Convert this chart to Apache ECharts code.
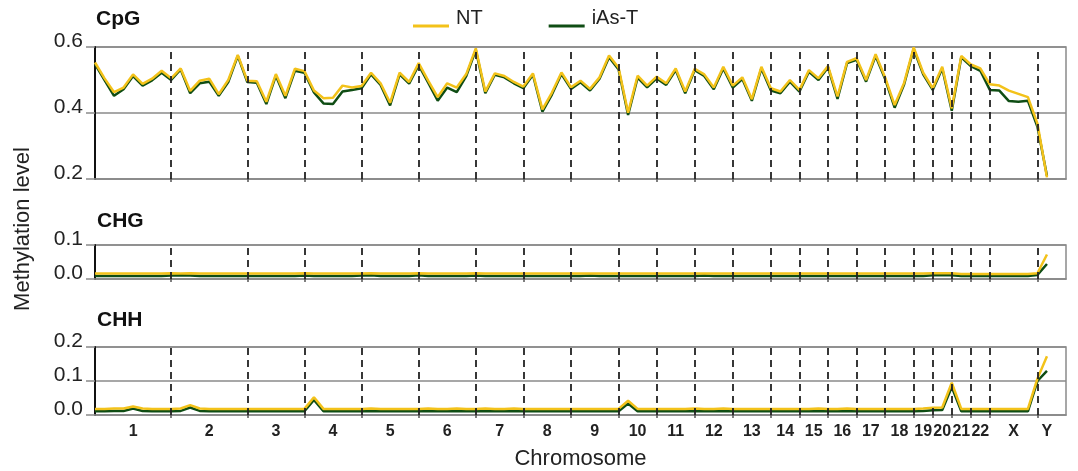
<!DOCTYPE html>
<html>
<head>
<meta charset="utf-8">
<script src="https://cdn.jsdelivr.net/npm/echarts@6/dist/echarts.min.js"></script>
<style>
  html, body { margin: 0; background: #fff; }
  #chart { width: 1078px; height: 471px; }
</style>
</head>
<body>
<div id="chart"></div>
<script>
// chromosomes and how many bins each one has on the x axis
const chrNames = ['1','2','3','4','5','6','7','8','9','10','11','12','13','14','15','16','17','18','19','20','21','22','X','Y'];
const chrBins  = [8,8,6,6,6,6,5,5,5,4,4,4,4,3,3,3,3,3,2,2,2,2,5,2];

const cpgNT = [
  0.553,0.505,0.463,0.477,0.517,0.488,0.504,0.528,0.505,0.535,
  0.467,0.498,0.504,0.457,0.500,0.576,0.498,0.496,0.434,0.518,
  0.452,0.534,0.527,0.468,0.445,0.446,0.483,0.477,0.482,0.522,
  0.490,0.431,0.522,0.494,0.551,0.498,0.448,0.490,0.477,0.518,
  0.596,0.465,0.520,0.512,0.494,0.480,0.520,0.411,0.462,0.523,
  0.478,0.498,0.473,0.508,0.574,0.537,0.401,0.513,0.483,0.510,
  0.490,0.535,0.465,0.534,0.517,0.477,0.540,0.483,0.508,0.442,
  0.540,0.475,0.465,0.500,0.470,0.530,0.505,0.542,0.450,0.555,
  0.566,0.500,0.578,0.508,0.424,0.492,0.599,0.522,0.475,0.540,
  0.414,0.573,0.547,0.535,0.487,0.483,0.468,0.458,0.448,0.368,
  0.205
];
const cpgIAs = [
  0.548,0.500,0.452,0.472,0.512,0.483,0.499,0.522,0.500,0.532,
  0.460,0.490,0.495,0.452,0.494,0.573,0.494,0.492,0.427,0.513,
  0.445,0.528,0.522,0.462,0.429,0.427,0.465,0.470,0.475,0.517,
  0.485,0.423,0.517,0.489,0.545,0.492,0.437,0.477,0.463,0.512,
  0.591,0.460,0.516,0.508,0.490,0.475,0.516,0.404,0.456,0.518,
  0.473,0.493,0.468,0.504,0.569,0.532,0.394,0.507,0.478,0.505,
  0.485,0.530,0.460,0.530,0.512,0.472,0.535,0.477,0.503,0.437,
  0.535,0.468,0.460,0.495,0.465,0.525,0.500,0.538,0.443,0.551,
  0.561,0.495,0.573,0.503,0.416,0.487,0.594,0.517,0.470,0.535,
  0.407,0.569,0.542,0.528,0.470,0.468,0.436,0.434,0.437,0.358,
  0.210
];

const chgNT = [
  0.016,0.016,0.016,0.016,0.016,0.016,0.016,0.016,0.017,0.016,
  0.017,0.016,0.016,0.016,0.016,0.016,0.016,0.016,0.016,0.016,
  0.016,0.016,0.017,0.016,0.016,0.016,0.016,0.016,0.016,0.017,
  0.016,0.016,0.016,0.016,0.017,0.016,0.016,0.016,0.016,0.016,
  0.017,0.016,0.016,0.016,0.016,0.016,0.016,0.016,0.016,0.016,
  0.016,0.016,0.016,0.016,0.016,0.016,0.016,0.016,0.016,0.016,
  0.016,0.016,0.016,0.016,0.016,0.016,0.016,0.016,0.016,0.016,
  0.016,0.016,0.016,0.016,0.016,0.016,0.016,0.016,0.016,0.016,
  0.016,0.016,0.016,0.016,0.016,0.016,0.016,0.016,0.017,0.017,
  0.017,0.015,0.015,0.015,0.015,0.015,0.015,0.015,0.015,0.017,
  0.072
];
const chgIAs = [
  0.009,0.009,0.009,0.009,0.009,0.009,0.009,0.009,0.010,0.011,
  0.010,0.009,0.009,0.009,0.009,0.009,0.009,0.009,0.009,0.009,
  0.009,0.009,0.010,0.009,0.009,0.009,0.009,0.009,0.010,0.011,
  0.009,0.009,0.009,0.009,0.011,0.009,0.009,0.009,0.009,0.009,
  0.010,0.009,0.009,0.009,0.009,0.009,0.009,0.009,0.009,0.009,
  0.009,0.009,0.010,0.009,0.009,0.009,0.009,0.009,0.009,0.009,
  0.009,0.009,0.009,0.009,0.010,0.009,0.009,0.009,0.009,0.009,
  0.009,0.009,0.009,0.009,0.009,0.009,0.009,0.009,0.009,0.009,
  0.009,0.009,0.009,0.009,0.009,0.009,0.009,0.009,0.011,0.011,
  0.011,0.009,0.009,0.009,0.009,0.009,0.009,0.009,0.009,0.012,
  0.044
];

const chhNT = [
  0.018,0.018,0.019,0.019,0.025,0.019,0.018,0.018,0.018,0.019,
  0.029,0.019,0.018,0.018,0.018,0.018,0.018,0.018,0.018,0.018,
  0.018,0.018,0.018,0.052,0.018,0.018,0.018,0.018,0.018,0.019,
  0.018,0.018,0.018,0.018,0.018,0.019,0.018,0.018,0.019,0.018,
  0.018,0.019,0.018,0.018,0.019,0.018,0.018,0.018,0.018,0.018,
  0.018,0.018,0.018,0.018,0.018,0.018,0.042,0.018,0.018,0.018,
  0.018,0.018,0.018,0.019,0.018,0.018,0.019,0.018,0.018,0.018,
  0.018,0.018,0.018,0.018,0.018,0.018,0.019,0.018,0.018,0.019,
  0.018,0.018,0.018,0.018,0.018,0.018,0.018,0.019,0.021,0.022,
  0.095,0.018,0.018,0.018,0.018,0.018,0.018,0.018,0.018,0.107,
  0.173
];
const chhIAs = [
  0.011,0.011,0.012,0.012,0.019,0.012,0.011,0.011,0.011,0.012,
  0.022,0.012,0.011,0.011,0.011,0.011,0.011,0.011,0.011,0.011,
  0.011,0.011,0.011,0.044,0.011,0.011,0.011,0.011,0.011,0.012,
  0.011,0.011,0.011,0.011,0.011,0.012,0.011,0.011,0.012,0.011,
  0.011,0.012,0.011,0.011,0.012,0.011,0.011,0.011,0.011,0.011,
  0.011,0.011,0.011,0.011,0.011,0.011,0.034,0.011,0.011,0.011,
  0.011,0.011,0.011,0.012,0.011,0.011,0.012,0.011,0.011,0.011,
  0.011,0.011,0.011,0.011,0.011,0.011,0.012,0.011,0.011,0.012,
  0.011,0.011,0.011,0.011,0.011,0.011,0.011,0.012,0.014,0.015,
  0.082,0.011,0.011,0.011,0.011,0.011,0.011,0.011,0.011,0.100,
  0.130
];

// bin boundaries (dashed lines / ticks) and label positions (middle of each chromosome)
let boundaries = [], labelAt = [], pos = 0;
chrBins.forEach((n, i) => {
    labelAt.push(pos + n / 2);
    pos += n;
    if (i < chrBins.length - 1) boundaries.push(pos);
});
const totalBins = pos + 1;

const NT_COLOR = '#f3c21a';
const IAS_COLOR = '#0f4d14';
const GRID_GRAY = '#8a8a8a';
const FONT = '"Liberation Sans", Arial, sans-serif';

const grids = [
    {left: 95, right: 12, top: 47, height: 132},
    {left: 95, right: 12, top: 245, height: 34},
    {left: 95, right: 12, top: 347, height: 69}
].map(g => Object.assign(g, {show: true, borderColor: GRID_GRAY, borderWidth: 1.5}));

function xAxisFor(idx, withLabels) {
    return {
        type: 'value', gridIndex: idx, min: 0, max: totalBins,
        axisLine: {show: true, lineStyle: {color: GRID_GRAY, width: 1.5}},
        axisTick: {show: true, customValues: boundaries, length: 3, lineStyle: {color: '#555', width: 1.5}},
        splitLine: {show: false},
        axisLabel: withLabels ? {
            show: true, customValues: labelAt, margin: 9,
            fontSize: 16, fontWeight: 'bold', color: '#222', fontFamily: FONT,
            formatter: v => {
                let best = 0;
                labelAt.forEach((p, k) => { if (Math.abs(p - v) < Math.abs(labelAt[best] - v)) best = k; });
                return chrNames[best];
            }
        } : {show: false},
        name: withLabels ? 'Chromosome' : '',
        nameLocation: 'middle', nameGap: 33,
        nameTextStyle: {fontSize: 22, color: '#222', fontFamily: FONT}
    };
}

function yAxisFor(idx, min, max, interval) {
    return {
        type: 'value', gridIndex: idx, min: min, max: max, interval: interval,
        axisLine: {show: true, lineStyle: {color: '#111', width: 2}},
        axisTick: {show: true, length: 9, lineStyle: {color: GRID_GRAY, width: 1.5}},
        splitLine: {show: true, lineStyle: {color: GRID_GRAY, width: 1.5}},
        axisLabel: {
            margin: 12, fontSize: 21, color: '#222', fontFamily: FONT,
            verticalAlign: 'bottom', lineHeight: 12,
            formatter: v => v.toFixed(1)
        }
    };
}

function lineSeries(name, idx, values, color, withMarks) {
    let s = {
        name: name, type: 'line', xAxisIndex: idx, yAxisIndex: idx,
        data: values.map((v, i) => [i, v]),
        showSymbol: false, symbol: 'none',
        lineStyle: {color: color, width: 2.5},
        itemStyle: {color: color},
        z: name === 'NT' ? 3 : 2
    };
    if (withMarks) {
        s.markLine = {
            silent: true, symbol: 'none', label: {show: false},
            lineStyle: {color: '#222', type: [7, 5], width: 1.8},
            data: boundaries.map(b => ({xAxis: b}))
        };
    }
    return s;
}

const titleStyle = {fontSize: 21, fontWeight: 'bold', color: '#111', fontFamily: FONT};

const chart = echarts.init(document.getElementById('chart'));
chart.setOption({
    animation: false,
    textStyle: {fontFamily: FONT},
    title: [
        {text: 'CpG', left: 96, top: 9, padding: 0, textStyle: titleStyle},
        {text: 'CHG', left: 97, top: 211, padding: 0, textStyle: titleStyle},
        {text: 'CHH', left: 97, top: 310, padding: 0, textStyle: titleStyle}
    ],
    legend: {
        data: ['NT', 'iAs-T'],
        left: 413, top: 8, padding: 0,
        // line sits at the bottom of the icon box, below the text middle
        icon: 'path://M0,0 M0,16 L36,16 L36,19 L0,19 Z',
        itemWidth: 36, itemHeight: 19, itemGap: 66,
        textStyle: {fontSize: 20, color: '#222', fontFamily: FONT, padding: [0, 0, 0, 2]}
    },
    graphic: [{
        type: 'text', x: 23, y: 229, rotation: Math.PI / 2,
        style: {text: 'Methylation level', font: '22px ' + FONT, fill: '#222', align: 'center', verticalAlign: 'middle'}
    }],
    grid: grids,
    xAxis: [xAxisFor(0, false), xAxisFor(1, false), xAxisFor(2, true)],
    yAxis: [yAxisFor(0, 0.2, 0.6, 0.2), yAxisFor(1, 0, 0.1, 0.1), yAxisFor(2, 0, 0.2, 0.1)],
    series: [
        lineSeries('iAs-T', 0, cpgIAs, IAS_COLOR, true),
        lineSeries('NT', 0, cpgNT, NT_COLOR, false),
        lineSeries('iAs-T', 1, chgIAs, IAS_COLOR, true),
        lineSeries('NT', 1, chgNT, NT_COLOR, false),
        lineSeries('iAs-T', 2, chhIAs, IAS_COLOR, true),
        lineSeries('NT', 2, chhNT, NT_COLOR, false)
    ]
});
</script>
</body>
</html>
